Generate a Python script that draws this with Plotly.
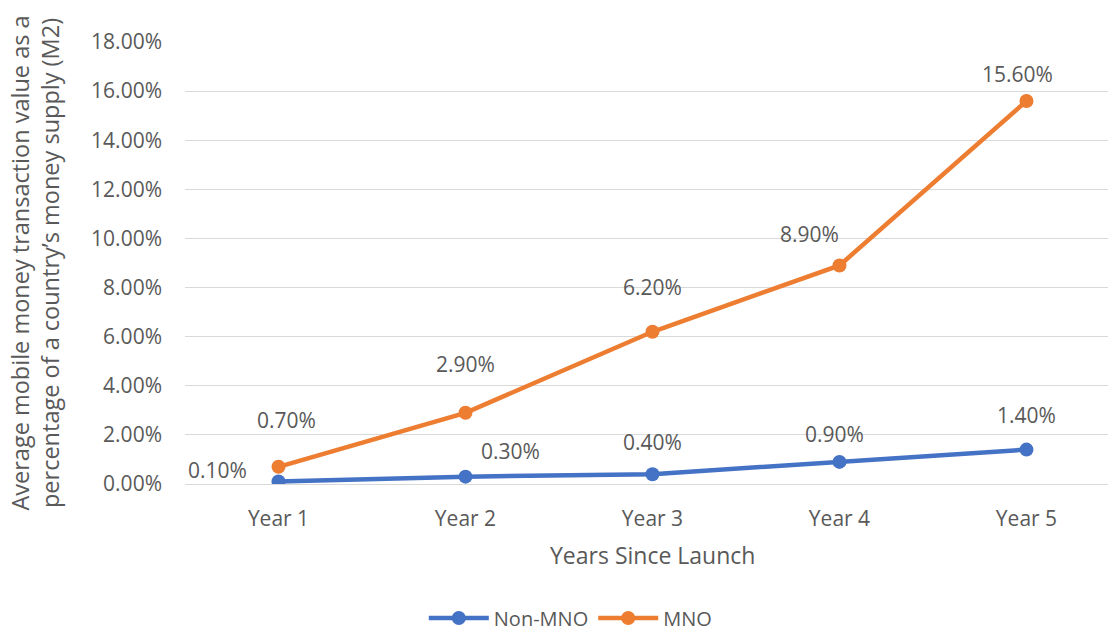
import plotly.graph_objects as go

categories = ["Year 1", "Year 2", "Year 3", "Year 4", "Year 5"]
non_mno = [0.10, 0.30, 0.40, 0.90, 1.40]
mno = [0.70, 2.90, 6.20, 8.90, 15.60]
y_ticks = [0, 2, 4, 6, 8, 10, 12, 14, 16, 18]

BLUE = "#4472C4"
ORANGE = "#ED7D31"
GREY = "#595959"
FONT = "Open Sans"

fig = go.Figure()
fig.add_trace(go.Scatter(x=list(range(len(categories))), y=non_mno, name="Non-MNO",
                         mode="lines+markers", line=dict(color=BLUE, width=4.5),
                         marker=dict(size=14, color=BLUE)))
fig.add_trace(go.Scatter(x=list(range(len(categories))), y=mno, name="MNO",
                         mode="lines+markers", line=dict(color=ORANGE, width=4.5),
                         marker=dict(size=14, color=ORANGE)))

# label offsets (px) for each point: (xshift, yshift)
non_off = [(-61, 12), (45, 26), (0, 32), (-5, 28), (0, 35)]
mno_off = [(8, 47), (0, 49), (0, 45), (-30, 31), (-9, 27)]

anns = []
for vals, offs in ((non_mno, non_off), (mno, mno_off)):
    for i, v in enumerate(vals):
        anns.append(dict(x=i, y=v, xref="x", yref="y", text=f"{v:.2f}%",
                         showarrow=False, xshift=offs[i][0], yshift=offs[i][1],
                         font=dict(family=FONT, size=21, color=GREY)))

anns.append(dict(x=2, y=-0.16, xref="x", yref="paper", text="Years Since Launch",
                 showarrow=False, yanchor="middle",
                 font=dict(family=FONT, size=23, color=GREY)))
anns.append(dict(x=-0.163, y=0.5, xref="paper", yref="paper", xanchor="center",
                 yanchor="middle",
                 text="Average mobile money transaction value as a<br>percentage of a country’s money supply (M2)",
                 showarrow=False, textangle=-90,
                 font=dict(family=FONT, size=23.5, color=GREY)))

fig.update_layout(
    width=1108, height=634,
    margin=dict(l=185, r=0, t=42, b=150, autoexpand=False),
    paper_bgcolor="white", plot_bgcolor="white",
    showlegend=True,
    legend=dict(orientation="h", x=0.418, xanchor="center", y=-0.303, yanchor="middle",
                font=dict(family=FONT, size=20, color=GREY), itemwidth=60,
                tracegroupgap=0),
    annotations=anns,
    xaxis=dict(range=[-0.5, 4.436], tickmode="array", tickvals=list(range(len(categories))),
               ticktext=categories, showgrid=False, zeroline=False, showline=False,
               ticks="", tickfont=dict(family=FONT, size=21, color=GREY), ticklabelstandoff=20),
    yaxis=dict(range=[0, 18], tickvals=y_ticks, ticktext=[f"{t:.2f}%" for t in y_ticks],
               showgrid=True, gridcolor="#D9D9D9", gridwidth=1.3, zeroline=True,
               zerolinecolor="#D9D9D9", zerolinewidth=1.3, showline=False, ticks="",
               tickfont=dict(family=FONT, size=21, color=GREY), ticklabelstandoff=22),
)

fig.write_html("out.html")
